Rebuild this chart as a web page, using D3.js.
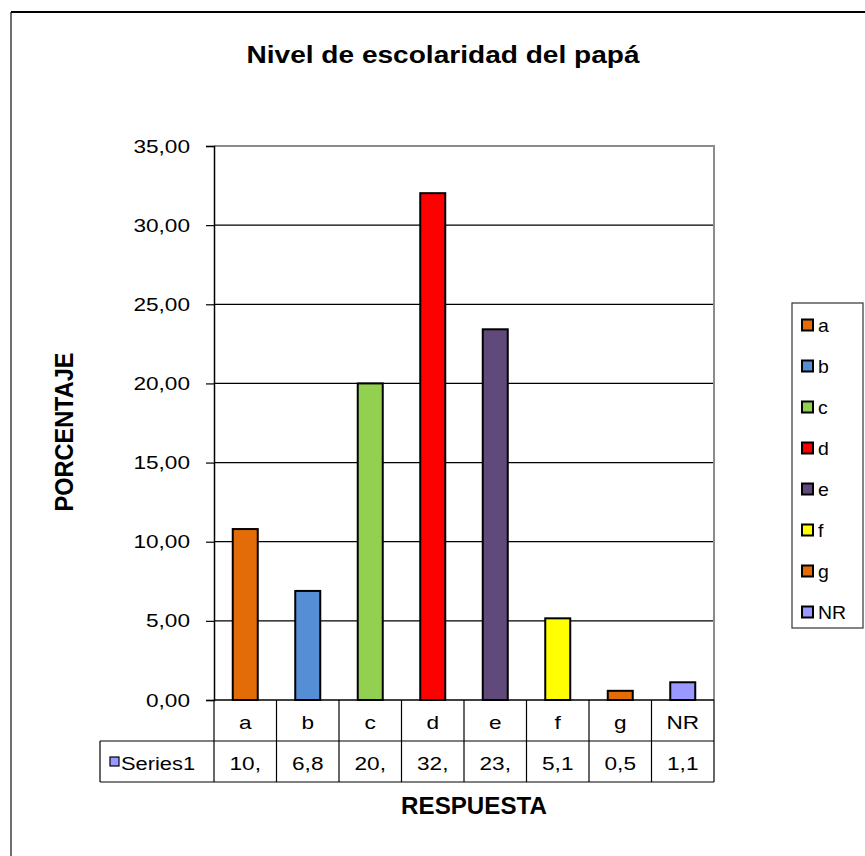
<!DOCTYPE html>
<html>
<head>
<meta charset="utf-8">
<script src="https://cdn.jsdelivr.net/npm/d3@7"></script>
<style>
  html, body { margin: 0; padding: 0; background: #fff; }
  svg { display: block; }
  text { font-family: "Liberation Sans", Arial, sans-serif; fill: #000; }
</style>
</head>
<body>
<svg id="chart" width="865" height="856"></svg>
<script>
// Nivel de escolaridad del papá — porcentaje por respuesta
const categories = ["a", "b", "c", "d", "e", "f", "g", "NR"];
const values = [10.80, 6.89, 20.00, 32.02, 23.42, 5.16, 0.58, 1.12];
const colors = ["#E36C09", "#558ED5", "#92D050", "#FF0000", "#604A7B", "#FFFF00", "#E36C09", "#9999FF"];
const yTicks = [0, 5, 10, 15, 20, 25, 30, 35];
const seriesName = "Series1";
const title = "Nivel de escolaridad del papá";
const yTitle = "PORCENTAJE";
const xTitle = "RESPUESTA";

const svg = d3.select("#chart");
const esLocale = d3.formatLocale({ decimal: ",", thousands: ".", grouping: [3], currency: ["", " €"] });
const fmt2 = esLocale.format(".2f");

const plot = { left: 214, right: 714, top: 146, bottom: 700 };
const tableRow = 41;

// chart area frame (runs past the right and bottom edges)
svg.append("line").attr("x1", 11).attr("y1", 12).attr("x2", 11).attr("y2", 856)
  .attr("stroke", "#6e6e6e").attr("stroke-width", 2);
svg.append("line").attr("x1", 11).attr("y1", 12).attr("x2", 865).attr("y2", 12)
  .attr("stroke", "#000").attr("stroke-width", 2);

const y = d3.scaleLinear().domain([0, 35]).range([plot.bottom, plot.top]);
const x = d3.scaleBand().domain(categories).range([plot.left, plot.right])
  .paddingInner(0.6).paddingOuter(0.3);
const xCell = d3.scaleBand().domain(categories).range([plot.left, plot.right]).padding(0);

// horizontal gridlines
svg.append("g").selectAll("line").data(yTicks.filter(t => t > 0 && t < 35)).join("line")
  .attr("x1", plot.left).attr("x2", plot.right)
  .attr("y1", d => y(d)).attr("y2", d => y(d))
  .attr("stroke", "#000").attr("stroke-width", 1.2);

// plot area border (top and right)
svg.append("path")
  .attr("d", `M${plot.left},${plot.top}H${plot.right}V${plot.bottom}`)
  .attr("fill", "none").attr("stroke", "#8c8c8c").attr("stroke-width", 2);

// bars
svg.append("g").selectAll("rect").data(categories).join("rect")
  .attr("x", d => x(d))
  .attr("width", x.bandwidth())
  .attr("y", (d, i) => y(values[i]))
  .attr("height", (d, i) => y(0) - y(values[i]))
  .attr("fill", (d, i) => colors[i])
  .attr("stroke", "#000").attr("stroke-width", 2);

// y axis
const yAxis = d3.axisLeft(y).tickValues(yTicks).tickSize(8).tickPadding(16)
  .tickFormat(d => fmt2(d));
const gy = svg.append("g").attr("transform", `translate(${plot.left},0)`).call(yAxis);
gy.select(".domain").attr("stroke", "#000").attr("stroke-width", 1.5);
gy.selectAll(".tick line").attr("stroke", "#000").attr("stroke-width", 1.2);
gy.selectAll(".tick text")
  .attr("font-size", 19).attr("font-family", "Liberation Sans, Arial, sans-serif")
  .attr("fill", "#000")
  .each(function () {
    const t = d3.select(this);
    const tx = +t.attr("x");
    t.attr("x", 0).attr("transform", `translate(${tx},0) scale(1.19,1)`);
  });

// zero line
svg.append("line").attr("x1", plot.left).attr("x2", plot.right)
  .attr("y1", y(0)).attr("y2", y(0)).attr("stroke", "#000").attr("stroke-width", 1.5);

// data table below the axis
const tbl = svg.append("g").attr("stroke", "#000").attr("stroke-width", 1.2);
const tTop = plot.bottom, tMid = plot.bottom + tableRow, tBot = plot.bottom + 2 * tableRow;
tbl.selectAll("line.v").data(categories.map(c => xCell(c)).concat([plot.right])).join("line")
  .attr("x1", d => d).attr("x2", d => d).attr("y1", tTop).attr("y2", tBot);
tbl.append("line").attr("x1", 100).attr("x2", plot.right).attr("y1", tMid).attr("y2", tMid);
tbl.append("line").attr("x1", 100).attr("x2", plot.right).attr("y1", tBot).attr("y2", tBot);
tbl.append("line").attr("x1", 100).attr("x2", 100).attr("y1", tMid).attr("y2", tBot);

const cellText = (g, txt, cx, baseline, size, sx) =>
  g.append("text").text(txt).attr("text-anchor", "middle").attr("font-size", size)
    .attr("transform", `translate(${cx},${baseline}) scale(${sx},1)`);

const labels = svg.append("g");
categories.forEach((c, i) => {
  const cx = xCell(c) + xCell.bandwidth() / 2;
  cellText(labels, c, cx, tTop + 29, 19, 1.19);
  // value cells are narrow, so the formatted value is cut to three characters
  cellText(labels, fmt2(values[i]).slice(0, 3), cx, tMid + 29, 19, 1.19);
});

// series key inside the table
svg.append("rect").attr("x", 110).attr("y", tMid + 16).attr("width", 9).attr("height", 9)
  .attr("fill", "#9999FF").attr("stroke", "#000").attr("stroke-width", 1.2);
svg.append("text").text(seriesName).attr("font-size", 19)
  .attr("transform", `translate(121,${tMid + 29}) scale(1.15,1)`);

// titles
svg.append("text").text(title).attr("text-anchor", "middle").attr("font-size", 24)
  .attr("font-weight", "bold")
  .attr("transform", `translate(443,63) scale(1.17,1)`);
svg.append("text").text(yTitle).attr("text-anchor", "middle").attr("font-size", 22)
  .attr("font-weight", "bold")
  .attr("transform", `translate(73,432) rotate(-90) scale(1.07,1.16)`);
svg.append("text").text(xTitle).attr("text-anchor", "middle").attr("font-size", 21)
  .attr("font-weight", "bold")
  .attr("transform", `translate(474,814) scale(1.15,1.1)`);

// legend
const lg = svg.append("g");
lg.append("rect").attr("x", 792).attr("y", 303).attr("width", 71).attr("height", 325)
  .attr("fill", "#fff").attr("stroke", "#333").attr("stroke-width", 1.2);
const item = lg.selectAll("g.item").data(categories).join("g")
  .attr("transform", (d, i) => `translate(802,${325 + i * 41})`);
item.append("rect").attr("x", 0).attr("y", -5.5).attr("width", 11).attr("height", 11)
  .attr("fill", (d, i) => colors[i]).attr("stroke", "#000").attr("stroke-width", 2);
item.append("text").text(d => d).attr("font-size", 18).attr("fill", "#222")
  .attr("transform", "translate(16,6.5) scale(1.08,1)");
</script>
</body>
</html>
